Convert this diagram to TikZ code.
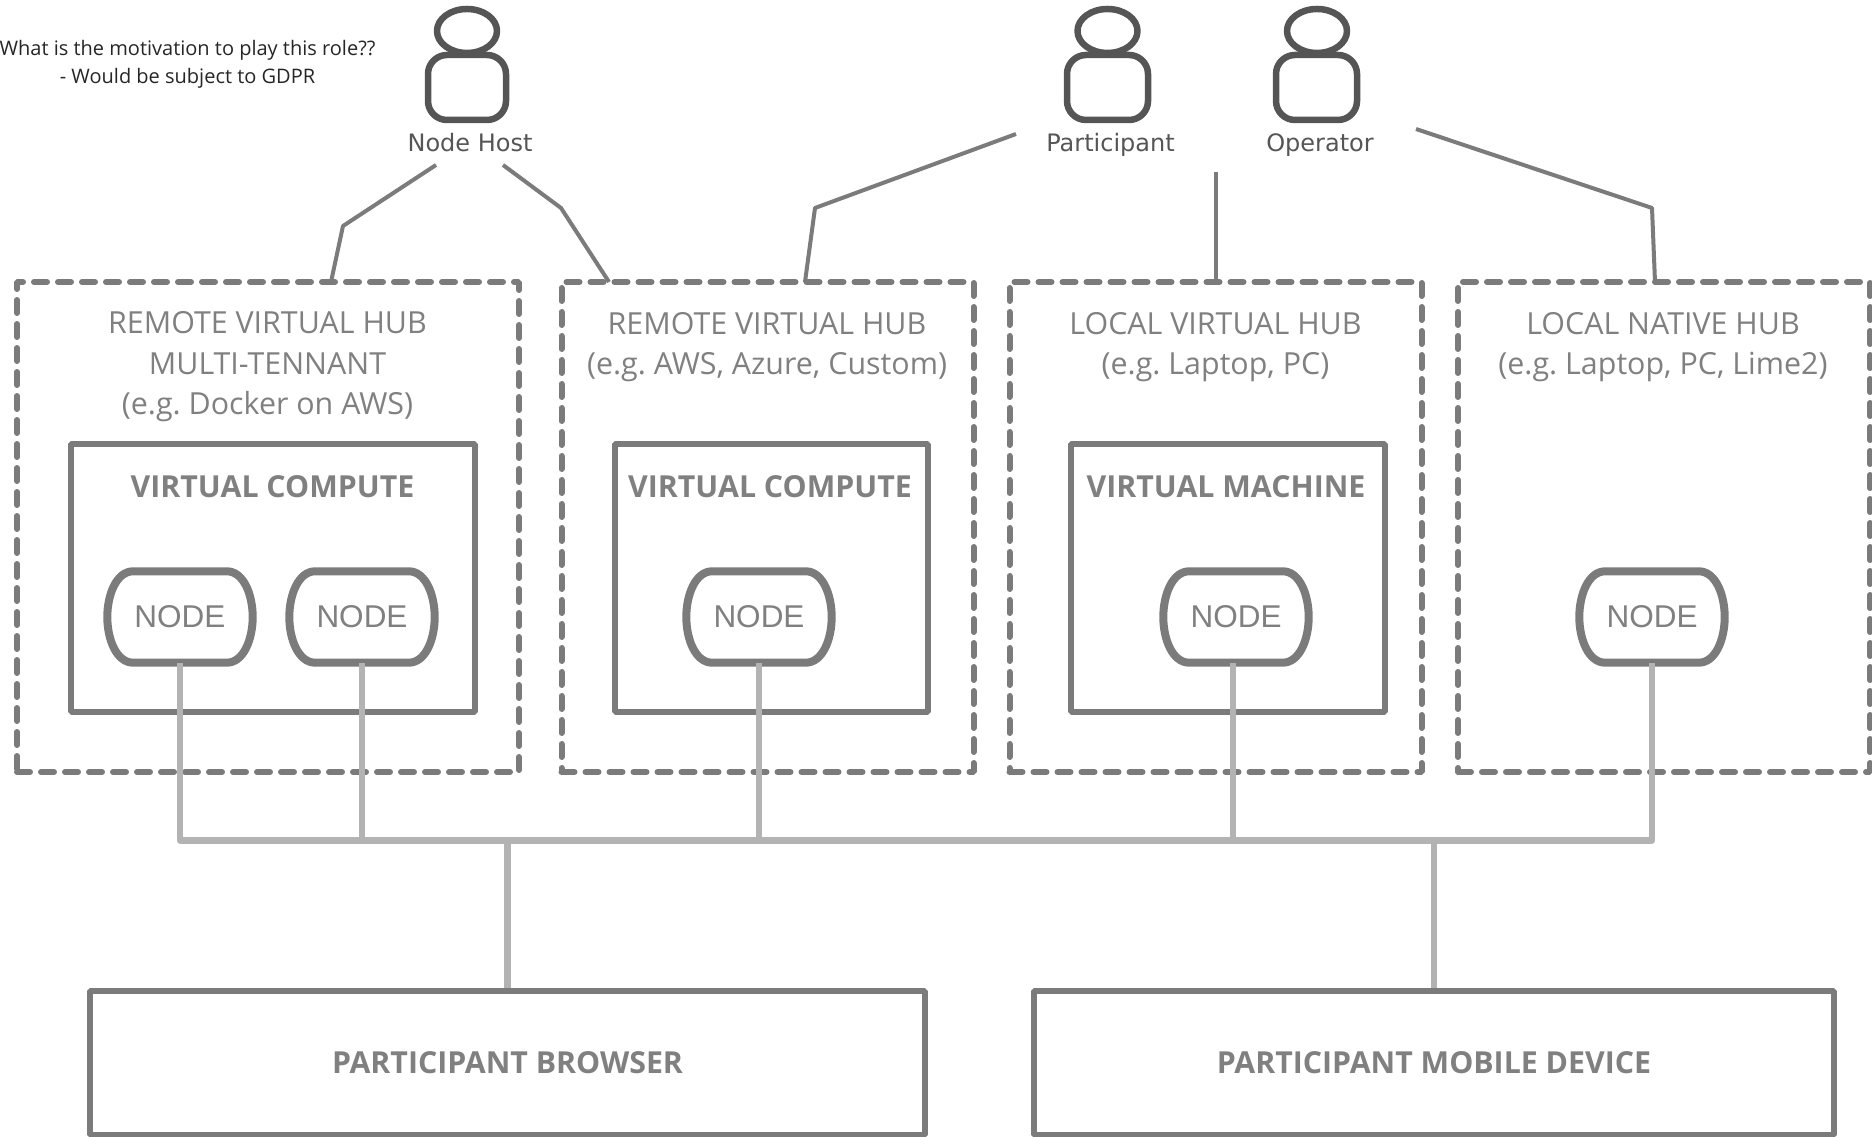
\documentclass[tikz,border=0pt]{standalone}
\usepackage{fontspec}
\setmainfont{Open Sans}
\newfontfamily\actorfont{DejaVu Sans}
\newfontfamily\nodefont{Liberation Sans}
\usetikzlibrary{shapes.geometric}
\definecolor{boxgray}{HTML}{7B7B7B}
\definecolor{busgray}{HTML}{B3B3B3}
\definecolor{actorgray}{HTML}{555555}
\definecolor{textgray}{HTML}{808080}
\frenchspacing
\tikzset{
  hubbox/.style={draw=boxgray,line width=6bp,dash pattern=on 13bp off 11bp,line cap=round,inner sep=0pt},
  solidbox/.style={draw=boxgray,line width=6bp,inner sep=0pt},
  hublabel/.style={align=center,text=textgray,font=\fontsize{30.4bp}{40.6bp}\selectfont,inner sep=0pt},
  boxtitle/.style={text=textgray,font=\fontsize{30.3bp}{35bp}\selectfont\bfseries,inner sep=0pt},
  nodebox/.style={minimum width=145bp,minimum height=91bp,inner sep=0pt,text=textgray,font=\nodefont\fontsize{31.5bp}{35bp}\selectfont},
  nodeline/.style={draw=boxgray,line width=8bp,line join=round},
  actorhead/.style={ellipse,draw=actorgray,line width=6.5bp,minimum width=60bp,minimum height=44bp,inner sep=0pt},
  actorbody/.style={rectangle,rounded corners=19bp,draw=actorgray,line width=6.5bp,minimum height=65bp,inner sep=0pt},
  actorlabel/.style={anchor=base,text=actorgray,font=\actorfont\fontsize{24bp}{28bp}\selectfont,inner sep=0pt},
  roleline/.style={draw=boxgray,line width=4bp},
  busline/.style={draw=busgray,line width=6.5bp,line join=round},
}
\newcommand{\nodeoutline}[1]{%
  \draw [nodeline] ([xshift=26bp]#1.north west) -- ([xshift=-26bp]#1.north east)
    ..controls ([xshift=-9bp]#1.north east) and ([yshift=22bp]#1.east) .. (#1.east)
    ..controls ([yshift=-22bp]#1.east) and ([xshift=-9bp]#1.south east) .. ([xshift=-26bp]#1.south east)
    -- ([xshift=26bp]#1.south west)
    ..controls ([xshift=9bp]#1.south west) and ([yshift=-22bp]#1.west) .. (#1.west)
    ..controls ([yshift=22bp]#1.west) and ([xshift=9bp]#1.north west) .. ([xshift=26bp]#1.north west) -- cycle;}
\begin{document}
\begin{tikzpicture}[line join=bevel,]
\useasboundingbox (0bp,0bp) rectangle (1872bp,1137bp);
%%
\node (note) at (187.5bp,1076bp) [align=center,text=black!85,font=\fontsize{20bp}{28bp}\selectfont,inner sep=0pt,yshift=-3.5bp] {What is the motivation to play this role??\\- Would be subject to GDPR};
%
  \node (head_host) at (467bp,1106bp) [actorhead] {};
  \node (body_host) at (467bp,1049.5bp) [actorbody,minimum width=78bp] {};
  \node (head_part) at (1107.5bp,1106bp) [actorhead] {};
  \node (body_part) at (1107.5bp,1049.5bp) [actorbody,minimum width=81bp] {};
  \node (head_oper) at (1317bp,1106bp) [actorhead] {};
  \node (body_oper) at (1316.5bp,1049.5bp) [actorbody,minimum width=81bp] {};
  \node (label_host) at (470bp,985bp) [actorlabel] {Node Host};
  \node (label_part) at (1110.5bp,985bp) [actorlabel] {Participant};
  \node (label_oper) at (1320bp,985bp) [actorlabel] {Operator};
%
  \node (hub_1) at (268bp,610bp) [hubbox,minimum width=502bp,minimum height=490bp] {};
  \node (hub_2) at (767.5bp,610bp) [hubbox,minimum width=412bp,minimum height=490bp] {};
  \node (hub_3) at (1215.5bp,610bp) [hubbox,minimum width=412bp,minimum height=490bp] {};
  \node (hub_4) at (1664bp,610bp) [hubbox,minimum width=412bp,minimum height=490bp] {};
  \node (hublabel_1) at (267.5bp,770bp) [hublabel] {REMOTE VIRTUAL HUB\\MULTI-TENNANT\\(e.g. Docker on AWS)};
  \node (hublabel_2) at (767bp,790bp) [hublabel] {REMOTE VIRTUAL HUB\\(e.g. AWS, Azure, Custom)};
  \node (hublabel_3) at (1215.5bp,790bp) [hublabel] {LOCAL VIRTUAL HUB\\(e.g. Laptop, PC)};
  \node (hublabel_4) at (1663bp,790bp) [hublabel] {LOCAL NATIVE HUB\\(e.g. Laptop, PC, Lime2)};
%
  \node (vbox_1) at (273bp,558.5bp) [solidbox,minimum width=404bp,minimum height=268bp] {};
  \node (vbox_2) at (771bp,558.5bp) [solidbox,minimum width=313bp,minimum height=268bp] {};
  \node (vbox_3) at (1227.5bp,558.5bp) [solidbox,minimum width=314bp,minimum height=268bp] {};
  \node (vtitle_1) at (272.5bp,650bp) [boxtitle] {VIRTUAL COMPUTE};
  \node (vtitle_2) at (770bp,650bp) [boxtitle] {VIRTUAL COMPUTE};
  \node (vtitle_3) at (1226bp,650bp) [boxtitle] {VIRTUAL MACHINE};
%
  \node (node_1) at (180bp,520bp) [nodebox] {NODE};
  \node (node_2) at (362bp,520bp) [nodebox] {NODE};
  \node (node_3) at (759bp,520bp) [nodebox] {NODE};
  \node (node_4) at (1236bp,520bp) [nodebox] {NODE};
  \node (node_5) at (1652bp,520bp) [nodebox] {NODE};
  \nodeoutline{node_1}
  \nodeoutline{node_2}
  \nodeoutline{node_3}
  \nodeoutline{node_4}
  \nodeoutline{node_5}
%
  \node (browser) at (507.5bp,74bp) [solidbox,minimum width=835bp,minimum height=144bp,text=textgray,font=\fontsize{30.3bp}{35bp}\selectfont\bfseries,text depth=0pt,yshift=0pt] {PARTICIPANT BROWSER};
  \node (mobile) at (1434bp,74bp) [solidbox,minimum width=800bp,minimum height=144bp,text=textgray,font=\fontsize{30.3bp}{35bp}\selectfont\bfseries,text depth=0pt,yshift=0pt] {PARTICIPANT MOBILE DEVICE};
%
  \coordinate (host_a) at (436bp,972bp);
  \coordinate (host_b) at (503bp,972bp);
  \coordinate (part_a) at (1016bp,1003bp);
  \coordinate (part_b) at (1215.5bp,965bp);
  \coordinate (oper_a) at (1416bp,1008bp);
  \draw [roleline] (host_a) -- (343bp,911bp) -- (331bp,855bp);
  \draw [roleline] (host_b) -- (561bp,929bp) -- (609bp,855bp);
  \draw [roleline] (part_a) -- (815bp,929bp) -- (805bp,855bp);
  \draw [roleline] (part_b) -- (hub_3.north);
  \draw [roleline] (oper_a) -- (1652bp,929bp) -- (1655bp,855bp);
%
  \coordinate (bus_1) at (180bp,296.5bp);
  \coordinate (bus_2) at (362bp,296.5bp);
  \coordinate (bus_3) at (759bp,296.5bp);
  \coordinate (bus_4) at (1233bp,296.5bp);
  \coordinate (bus_5) at (1652bp,296.5bp);
  \draw [busline] (node_1.south) -- (bus_1) -- (bus_5) -- (node_5.south);
  \draw [busline] (node_2.south) -- (bus_2);
  \draw [busline] (node_3.south) -- (bus_3);
  \draw [busline] (node_4.south -| bus_4) -- (bus_4);
  \draw [busline] (bus_1 -| browser.north) -- (browser.north);
  \draw [busline] (bus_1 -| mobile.north) -- (mobile.north);
%
\end{tikzpicture}
\end{document}
